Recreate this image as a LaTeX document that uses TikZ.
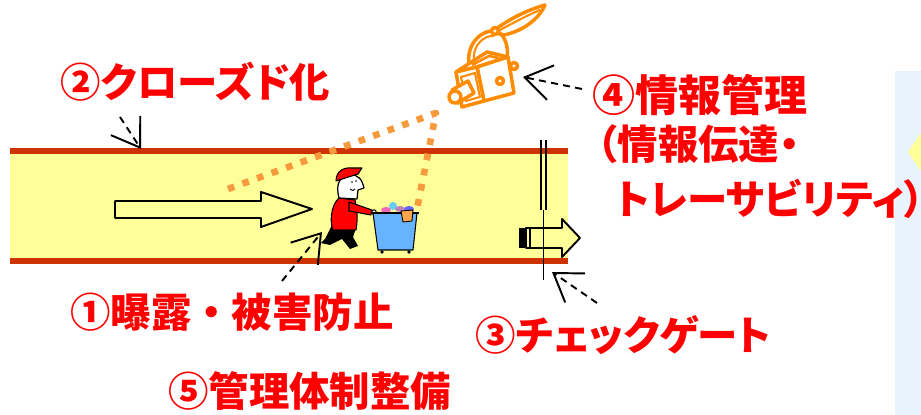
\documentclass[tikz,border=0pt]{standalone}
\usepackage{fontspec}
\newfontfamily\jp{Noto Sans CJK JP}[RawFeature=+palt]
\newfontfamily\jpw{Noto Sans CJK JP}
\usetikzlibrary{arrows.meta}
\definecolor{wall}{RGB}{204,51,0}
\definecolor{floor}{RGB}{255,255,153}
\definecolor{redtext}{RGB}{255,0,0}
\definecolor{sight}{RGB}{247,153,61}
\definecolor{cam}{RGB}{255,140,0}
\definecolor{bin}{RGB}{102,180,255}
\definecolor{panel}{RGB}{232,243,252}
\tikzset{
	lbl/.style={font=\jp\bfseries\fontsize{23}{28}\selectfont, text=redtext, inner sep=0pt, anchor=west},
	ptr/.style={line width=1.1pt, dash pattern=on 4pt off 3pt, ->},
	camline/.style={cam, line width=2pt, fill=white},
}
\begin{document}
\begin{tikzpicture}[line join=round, >={Straight Barb[length=15pt,width=20pt]}, x=0.02cm, y=-0.02cm]
			\useasboundingbox (0,0) rectangle (921,415);
			\def\wallL{10}
			\def\wallR{568}
			\def\wallT{151}
			\def\wallB{261}
			\def\gx{543.5}
			
			\fill[panel] (895,71) rectangle (921,415);
			\fill[floor] (908,152) -- (921,133) -- (921,171) -- cycle;
			
			\fill[floor] (\wallL,\wallT) rectangle (\wallR,\wallB);
			\draw[wall, line width=3.4pt] (\wallL,\wallT) -- (\wallR,\wallT);
			\draw[wall, line width=3.4pt] (\wallL,\wallB) -- (\wallR,\wallB);
			
			\draw[line width=1.1pt] (115,201) -- (261,201) -- (261,192) -- (312,209) -- (261,227) -- (261,218) -- (115,218) -- cycle;
			
			\coordinate (V1) at (228,189);
			\coordinate (V2) at (436,113);
			\coordinate (V3) at (416,214);
			\draw[sight, line width=3.8pt, dash pattern=on 3.8pt off 5pt] (V1) -- (V2) -- (V3);
			
			\draw[camline] (492,32) .. controls (510,18) and (528,10) .. (545,5) .. controls (539,19) and (523,31) .. (504,35) -- cycle;
			\draw[cam, line width=1.2pt] (500,30) .. controls (515,22) and (528,15) .. (540,10);
			\draw[cam, line width=2pt] (469,64) .. controls (466,42) and (484,29) .. (495,31) .. controls (509,34) and (512,60) .. (500,81);
			\draw[cam, line width=1.2pt] (474,62) .. controls (472,44) and (485,35) .. (494,36);
			\draw[camline] (495,31) circle (3.5);
			\draw[camline] (456,72) -- (487,52) -- (508,57) -- (477,67) -- cycle;
			\draw[camline] (477,67) -- (508,57) -- (514,93) -- (484,101) -- cycle;
			\draw[camline] (456,72) -- (477,67) -- (484,101) -- (462,107) -- cycle;
			\draw[cam, line width=1.2pt] (461,77) -- (475,73) -- (480,97) -- (466,101) -- cycle;
			\draw[cam, line width=1.5pt] (472,65) -- (489,56) -- (499,58);
			\draw[camline] (500,81) circle (3.5);
			\draw[camline] (514,66) circle (3.5);
			\draw[camline] (468,81) -- (452,90) -- (458,103) -- (474,93) -- cycle;
			\draw[camline] (455,97) circle (6);
			
			\fill[black] (332,225) -- (357,225) -- (353,237) -- (358,246) -- (350,249) -- (342,239) -- (330,245) -- (321,243) -- (325,239) -- cycle;
			\draw[line width=0.6pt, fill=red] (339,198) .. controls (330,206) and (330,224) .. (333,230) -- (356,230) .. controls (358,220) and (357,208) .. (355,200) -- cycle;
			\draw[line width=0.6pt, fill=red] (349,202) -- (372,210) -- (371,215) -- (349,211) -- cycle;
			\draw[line width=0.6pt, fill=white] (374,212) circle (2.2);
			\draw[line width=0.7pt, fill=white] (339,198) .. controls (336,186) and (338,177) .. (349,175) .. controls (359,174) and (362,180) .. (364,188) -- (358,190) -- (357,199) -- cycle;
			\draw[line width=0.6pt, fill=red] (336,181) .. controls (336,171) and (344,167) .. (352,168) -- (362,168) -- (358,174) -- cycle;
			\fill (352,182) circle (0.8);
			\fill (356,181) circle (0.8);
			\draw[line width=0.5pt] (350,189) .. controls (352,191) and (354,191) .. (355,189);
			
			\fill[magenta!60] (386,210) ellipse (5 and 3);
			\fill[cyan!60] (393,206) ellipse (4 and 4);
			\fill[violet!50] (400,209) ellipse (5 and 3);
			\fill[blue!60] (409,209) ellipse (5 and 3);
			\draw[line width=0.6pt, fill=bin] (373,213) -- (417,213) -- (413,250) -- (378,250) -- cycle;
			\draw[line width=1.2pt] (371,213) -- (419,213);
			\draw[line width=0.5pt, fill=orange!70] (401,211) -- (413,210) -- (412,221) -- (403,222) -- cycle;
			\fill (382,252) circle (1.8);
			\fill (409,252) circle (1.8);
			
			\draw[line width=1.1pt, fill=floor] (530,228) -- (562,228) -- (562,219) -- (580,238) -- (562,257) -- (562,248) -- (530,248) -- cycle;
			\fill[black] (519,228) rectangle (526,248);
			\draw[line width=1pt] (526,228) rectangle (530,248);
			\draw[line width=1.1pt] (541,140) -- (541,210);
			\draw[line width=1.1pt] (546,140) -- (546,210);
			\draw[line width=1.1pt] (\gx,210) -- (\gx,280);
			
			\node[lbl] (closed) at (60,82) {②クローズド化};
			\node[lbl, font=\jp\bfseries\fontsize{24.5}{28}\selectfont] (info) at (592,95) {④情報管理};
			\node[lbl] (infoA) at (597,144) {（情報伝達・};
			\node[lbl] (infoB) at (616,199) {トレーサビリティ\makebox[0.42em][l]{）}};
			\node[lbl, font=\jpw\bfseries\fontsize{23}{28}\selectfont] (guard) at (70,312) {①曝露・被害防止};
			\node[lbl] (check) at (475,335) {③チェックゲート};
			\node[lbl] (system) at (168,391) {⑤管理体制整備};
			
			\coordinate (p2s) at (120,117);
			\coordinate (p2e) at (141,149);
			\coordinate (p1s) at (282,281);
			\coordinate (p1e) at (322,232);
			\coordinate (p3s) at (597,303);
			\coordinate (p3e) at (552,272);
			\coordinate (p4s) at (582,89);
			\coordinate (p4e) at (523,77);
			\draw[ptr] (p2s) -- (p2e);
			\draw[ptr] (p1s) -- (p1e);
			\draw[ptr] (p3s) -- (p3e);
			\draw[ptr] (p4s) -- (p4e);
		\end{tikzpicture}
\end{document}
